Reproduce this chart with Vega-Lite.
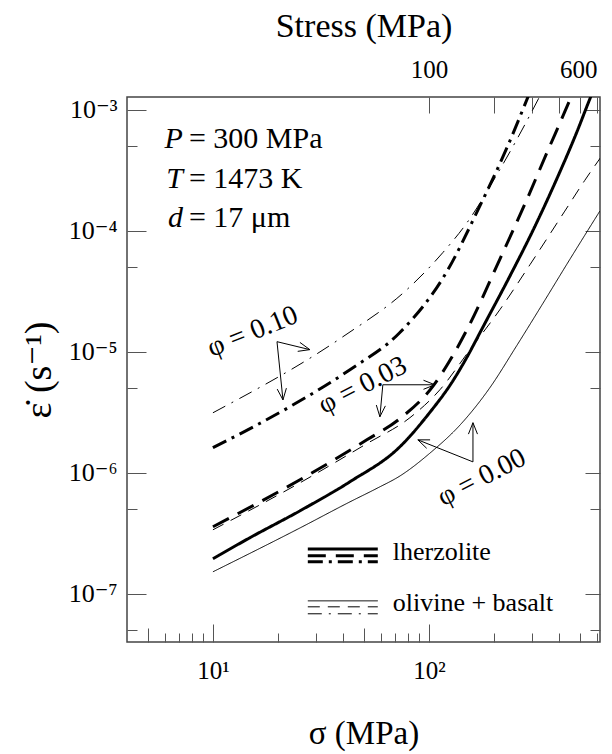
{
  "$schema": "https://vega.github.io/schema/vega-lite/v6.json",
  "width": 473,
  "height": 545,
  "autosize": {"type": "none"},
  "padding": {"left": 127, "top": 97, "right": 12, "bottom": 112},
  "background": "white",
  "config": {
    "view": {"stroke": "#444", "strokeWidth": 1.5},
    "font": "Liberation Serif, DejaVu Serif, serif",
    "text": {"font": "Liberation Serif, DejaVu Serif, serif"},
    "axis": {
      "domain": false, "grid": false,
      "labelFont": "Liberation Serif, DejaVu Serif, serif", "titleFont": "Liberation Serif, DejaVu Serif, serif",
      "labelFontSize": 25, "titleFontSize": 34, "titleFontWeight": "normal",
      "labelColor": "black", "titleColor": "black", "tickColor": "#555", "tickWidth": 1
    }
  },
  "datasets": {
    "curves": [
      {"rock": "lherzolite", "phi": "0.00", "s": 10, "e": 1.95e-7},
      {"rock": "lherzolite", "phi": "0.00", "s": 14.8, "e": 2.9e-7},
      {"rock": "lherzolite", "phi": "0.00", "s": 25.3, "e": 4.85e-7},
      {"rock": "lherzolite", "phi": "0.00", "s": 43.1, "e": 8.43e-7},
      {"rock": "lherzolite", "phi": "0.00", "s": 73.4, "e": 1.64e-6},
      {"rock": "lherzolite", "phi": "0.00", "s": 101, "e": 3.15e-6},
      {"rock": "lherzolite", "phi": "0.00", "s": 128, "e": 5.6e-6},
      {"rock": "lherzolite", "phi": "0.00", "s": 150, "e": 9.0e-6},
      {"rock": "lherzolite", "phi": "0.00", "s": 178, "e": 1.6e-5},
      {"rock": "lherzolite", "phi": "0.00", "s": 237, "e": 4.2e-5},
      {"rock": "lherzolite", "phi": "0.00", "s": 303, "e": 1.0e-4},
      {"rock": "lherzolite", "phi": "0.00", "s": 392, "e": 2.7e-4},
      {"rock": "lherzolite", "phi": "0.00", "s": 484, "e": 6.5e-4},
      {"rock": "lherzolite", "phi": "0.00", "s": 556, "e": 1.22e-3},
      {"rock": "lherzolite", "phi": "0.00", "s": 620, "e": 1.95e-3},
      {"rock": "lherzolite", "phi": "0.03", "s": 10, "e": 3.58e-7},
      {"rock": "lherzolite", "phi": "0.03", "s": 25.3, "e": 8.75e-7},
      {"rock": "lherzolite", "phi": "0.03", "s": 51.6, "e": 1.87e-6},
      {"rock": "lherzolite", "phi": "0.03", "s": 73.4, "e": 2.8e-6},
      {"rock": "lherzolite", "phi": "0.03", "s": 104.5, "e": 5.2e-6},
      {"rock": "lherzolite", "phi": "0.03", "s": 130, "e": 9.5e-6},
      {"rock": "lherzolite", "phi": "0.03", "s": 155, "e": 1.7e-5},
      {"rock": "lherzolite", "phi": "0.03", "s": 213, "e": 5.8e-5},
      {"rock": "lherzolite", "phi": "0.03", "s": 284, "e": 1.8e-4},
      {"rock": "lherzolite", "phi": "0.03", "s": 352, "e": 4.4e-4},
      {"rock": "lherzolite", "phi": "0.03", "s": 426, "e": 9.6e-4},
      {"rock": "lherzolite", "phi": "0.03", "s": 470, "e": 1.45e-3},
      {"rock": "lherzolite", "phi": "0.10", "s": 10, "e": 1.61e-6},
      {"rock": "lherzolite", "phi": "0.10", "s": 22.7, "e": 3.51e-6},
      {"rock": "lherzolite", "phi": "0.10", "s": 43.1, "e": 7.1e-6},
      {"rock": "lherzolite", "phi": "0.10", "s": 73.4, "e": 1.44e-5},
      {"rock": "lherzolite", "phi": "0.10", "s": 121, "e": 4.58e-5},
      {"rock": "lherzolite", "phi": "0.10", "s": 169, "e": 1.49e-4},
      {"rock": "lherzolite", "phi": "0.10", "s": 230, "e": 4.85e-4},
      {"rock": "lherzolite", "phi": "0.10", "s": 287, "e": 1.26e-3},
      {"rock": "lherzolite", "phi": "0.10", "s": 310, "e": 1.77e-3},
      {"rock": "olivine + basalt", "phi": "0.00", "s": 10, "e": 1.52e-7},
      {"rock": "olivine + basalt", "phi": "0.00", "s": 25.3, "e": 3.5e-7},
      {"rock": "olivine + basalt", "phi": "0.00", "s": 43.1, "e": 5.75e-7},
      {"rock": "olivine + basalt", "phi": "0.00", "s": 58, "e": 7.5e-7},
      {"rock": "olivine + basalt", "phi": "0.00", "s": 73.4, "e": 9.4e-7},
      {"rock": "olivine + basalt", "phi": "0.00", "s": 101, "e": 1.45e-6},
      {"rock": "olivine + basalt", "phi": "0.00", "s": 140, "e": 2.5e-6},
      {"rock": "olivine + basalt", "phi": "0.00", "s": 191, "e": 5.0e-6},
      {"rock": "olivine + basalt", "phi": "0.00", "s": 255, "e": 1.12e-5},
      {"rock": "olivine + basalt", "phi": "0.00", "s": 337, "e": 2.5e-5},
      {"rock": "olivine + basalt", "phi": "0.00", "s": 436, "e": 5.3e-5},
      {"rock": "olivine + basalt", "phi": "0.00", "s": 619, "e": 1.45e-4},
      {"rock": "olivine + basalt", "phi": "0.03", "s": 10, "e": 3.38e-7},
      {"rock": "olivine + basalt", "phi": "0.03", "s": 25.3, "e": 8.26e-7},
      {"rock": "olivine + basalt", "phi": "0.03", "s": 51.6, "e": 1.74e-6},
      {"rock": "olivine + basalt", "phi": "0.03", "s": 81.7, "e": 2.85e-6},
      {"rock": "olivine + basalt", "phi": "0.03", "s": 112.5, "e": 4.85e-6},
      {"rock": "olivine + basalt", "phi": "0.03", "s": 155, "e": 1.04e-5},
      {"rock": "olivine + basalt", "phi": "0.03", "s": 213, "e": 2.22e-5},
      {"rock": "olivine + basalt", "phi": "0.03", "s": 294, "e": 5.24e-5},
      {"rock": "olivine + basalt", "phi": "0.03", "s": 426, "e": 1.45e-4},
      {"rock": "olivine + basalt", "phi": "0.03", "s": 527, "e": 2.6e-4},
      {"rock": "olivine + basalt", "phi": "0.03", "s": 653, "e": 4.5e-4},
      {"rock": "olivine + basalt", "phi": "0.10", "s": 10, "e": 3.13e-6},
      {"rock": "olivine + basalt", "phi": "0.10", "s": 40, "e": 1.33e-5},
      {"rock": "olivine + basalt", "phi": "0.10", "s": 79, "e": 3.25e-5},
      {"rock": "olivine + basalt", "phi": "0.10", "s": 116, "e": 6.58e-5},
      {"rock": "olivine + basalt", "phi": "0.10", "s": 150, "e": 1.16e-4},
      {"rock": "olivine + basalt", "phi": "0.10", "s": 213, "e": 3.19e-4},
      {"rock": "olivine + basalt", "phi": "0.10", "s": 303, "e": 1.0e-3},
      {"rock": "olivine + basalt", "phi": "0.10", "s": 344, "e": 1.55e-3}
    ],
    "legend": [
      {"rock": "lherzolite", "phi": "0.00", "s1": 27.5, "s2": 58, "e": 2.35e-7},
      {"rock": "lherzolite", "phi": "0.03", "s1": 27.5, "s2": 58, "e": 2.06e-7},
      {"rock": "lherzolite", "phi": "0.10", "s1": 27.5, "s2": 58, "e": 1.84e-7},
      {"rock": "olivine + basalt", "phi": "0.00", "s1": 27.5, "s2": 58, "e": 8.75e-8},
      {"rock": "olivine + basalt", "phi": "0.03", "s1": 27.5, "s2": 58, "e": 7.81e-8},
      {"rock": "olivine + basalt", "phi": "0.10", "s1": 27.5, "s2": 58, "e": 6.84e-8}
    ],
    "legendText": [
      {"label": "lherzolite", "s": 68, "e": 2.22e-7},
      {"label": "olivine + basalt", "s": 68, "e": 8.43e-8}
    ],
    "arrows": [
      {"dir": "a", "s1": 19.8, "e1": 1.21e-5, "s2": 28.1, "e2": 1.04e-5},
      {"dir": "b", "s1": 19.8, "e1": 1.21e-5, "s2": 21.1, "e2": 4.0e-6},
      {"dir": "c", "s1": 61.2, "e1": 5.33e-6, "s2": 106.6, "e2": 5.33e-6},
      {"dir": "d", "s1": 61.2, "e1": 5.33e-6, "s2": 59.3, "e2": 2.9e-6},
      {"dir": "e", "s1": 160, "e1": 1.23e-6, "s2": 160, "e2": 2.59e-6},
      {"dir": "f", "s1": 160, "e1": 1.23e-6, "s2": 88.9, "e2": 1.87e-6}
    ],
    "phiLabels": [
      {"phi": "0.10", "label": "φ = 0.10", "s": 15.3, "e": 1.46e-5},
      {"phi": "0.03", "label": "φ = 0.03", "s": 49.4, "e": 5.24e-6},
      {"phi": "0.00", "label": "φ = 0.00", "s": 176, "e": 9.1e-7}
    ],
    "params": [
      {"v": "P", "rest": "= 300 MPa", "s": 7.74, "e": 4.85e-4},
      {"v": "T", "rest": "= 1473 K", "s": 7.74, "e": 2.26e-4},
      {"v": "d", "rest": "= 17 μm", "s": 7.74, "e": 1.08e-4}
    ]
  },
  "resolve": {"axis": {"x": "independent", "y": "independent"}, "scale": {"strokeDash": "independent", "shape": "independent"}},
  "layer": [
    {
      "data": {"name": "curves"},
      "transform": [{"filter": "datum.rock == 'lherzolite'"}],
      "mark": {"type": "line", "strokeWidth": 3, "color": "black", "interpolate": "monotone", "clip": true},
      "encoding": {
        "x": {"field": "s", "type": "quantitative", "scale": {"type": "log", "domain": [4, 620], "nice": false},
          "axis": {"orient": "bottom", "values": [10, 100], "labelExpr": "datum.value < 50 ? '10¹' : '10²'", "tickSize": -18, "labelPadding": 34, "title": "σ (MPa)", "titleFontSize": 33, "titlePadding": 34}},
        "y": {"field": "e", "type": "quantitative", "scale": {"type": "log", "domain": [4e-8, 1.27e-3], "nice": false},
          "axis": {"orient": "left", "values": [1e-7, 1e-6, 1e-5, 1e-4, 1e-3], "labelExpr": "datum.value < 5e-7 ? '10⁻⁷' : datum.value < 5e-6 ? '10⁻⁶' : datum.value < 5e-5 ? '10⁻⁵' : datum.value < 5e-4 ? '10⁻⁴' : '10⁻³'", "labelFontSize": 26, "tickSize": -19, "labelPadding": 29, "title": "ε̇ (s⁻¹)", "titleFontSize": 38, "titlePadding": 10}},
        "strokeDash": {"field": "phi", "type": "nominal", "scale": {"domain": ["0.00", "0.03", "0.10"], "range": [[1, 0], [18, 10], [15, 6, 3, 6]]}, "legend": null}
      }
    },
    {
      "data": {"name": "curves"},
      "transform": [{"filter": "datum.rock != 'lherzolite'"}],
      "mark": {"type": "line", "strokeWidth": 1, "color": "black", "interpolate": "monotone", "clip": true},
      "encoding": {
        "x": {"field": "s", "type": "quantitative", "scale": {"type": "log", "domain": [4, 620], "nice": false},
          "axis": {"orient": "bottom", "values": [6, 7, 8, 9, 20, 30, 40, 60, 70, 80, 90, 200, 300, 400, 500, 600], "labels": false, "tickSize": -9, "title": null}},
        "y": {"field": "e", "type": "quantitative", "scale": {"type": "log", "domain": [4e-8, 1.27e-3], "nice": false},
          "axis": {"orient": "left", "values": [5e-8, 5e-7, 5e-6, 5e-5, 5e-4], "labels": false, "tickSize": -10, "title": null}},
        "strokeDash": {"field": "phi", "type": "nominal", "scale": {"domain": ["0.00", "0.03", "0.10"], "range": [[1, 0], [12, 8], [14, 7, 2, 7]]}, "legend": null}
      }
    },
    {
      "data": {"name": "legend"},
      "transform": [{"filter": "datum.rock == 'lherzolite'"}],
      "mark": {"type": "rule", "strokeWidth": 3, "color": "black"},
      "encoding": {
        "x": {"field": "s1", "type": "quantitative", "scale": {"type": "log", "domain": [4, 620], "nice": false},
          "axis": {"orient": "top", "values": [100, 200, 300, 400, 500, 600], "labelExpr": "datum.value == 100 ? '100' : datum.value == 600 ? '600' : ''", "labelFlush": 5, "tickSize": -16, "labelPadding": 31, "title": "Stress (MPa)", "titlePadding": 14}},
        "x2": {"field": "s2"},
        "y": {"field": "e", "type": "quantitative", "scale": {"type": "log", "domain": [4e-8, 1.27e-3], "nice": false},
          "axis": {"orient": "right", "values": [1e-7, 1e-6, 1e-5, 1e-4, 1e-3], "labels": false, "tickSize": -15, "title": null}},
        "strokeDash": {"field": "phi", "type": "nominal", "scale": {"domain": ["0.00", "0.03", "0.10"], "range": [[1, 0], [18, 10], [15, 6, 3, 6]]}, "legend": null}
      }
    },
    {
      "data": {"name": "legend"},
      "transform": [{"filter": "datum.rock != 'lherzolite'"}],
      "mark": {"type": "rule", "strokeWidth": 1, "color": "black"},
      "encoding": {
        "x": {"field": "s1", "type": "quantitative", "scale": {"type": "log", "domain": [4, 620], "nice": false},
          "axis": {"orient": "bottom", "values": [5, 50], "labels": false, "tickSize": -14, "title": null}},
        "x2": {"field": "s2"},
        "y": {"field": "e", "type": "quantitative", "scale": {"type": "log", "domain": [4e-8, 1.27e-3], "nice": false},
          "axis": {"orient": "right", "values": [5e-8, 5e-7, 5e-6, 5e-5, 5e-4], "labels": false, "tickSize": -10, "title": null}},
        "strokeDash": {"field": "phi", "type": "nominal", "scale": {"domain": ["0.00", "0.03", "0.10"], "range": [[1, 0], [12, 8], [14, 7, 2, 7]]}, "legend": null}
      }
    },
    {
      "data": {"name": "legendText"},
      "mark": {"type": "text", "align": "left", "baseline": "middle", "fontSize": 26, "color": "black"},
      "encoding": {
        "x": {"field": "s", "type": "quantitative", "axis": null},
        "y": {"field": "e", "type": "quantitative", "axis": null},
        "text": {"field": "label"}
      }
    },
    {
      "data": {"name": "arrows"},
      "mark": {"type": "rule", "strokeWidth": 1, "color": "black"},
      "encoding": {
        "x": {"field": "s1", "type": "quantitative", "axis": null},
        "y": {"field": "e1", "type": "quantitative", "axis": null},
        "x2": {"field": "s2"},
        "y2": {"field": "e2"}
      }
    },
    {
      "data": {"name": "arrows"},
      "mark": {"type": "point", "filled": false, "stroke": "black", "strokeWidth": 1, "size": 600, "opacity": 1},
      "encoding": {
        "x": {"field": "s2", "type": "quantitative", "axis": null},
        "y": {"field": "e2", "type": "quantitative", "axis": null},
        "shape": {"field": "dir", "type": "nominal", "legend": null,
          "scale": {"domain": ["a", "b", "c", "d", "e", "f"],
            "range": ["M-0.81,-0.59L0,0L-0.99,0.14", "M0.28,-0.96L0,0L-0.47,-0.88", "M-0.93,-0.37L0,0L-0.93,0.37", "M0.45,-0.89L0,0L-0.29,-0.96", "M-0.37,0.93L0,0L0.37,0.93", "M0.72,0.69L0,0L1,0"]}}
      }
    },
    {
      "data": {"name": "phiLabels"},
      "transform": [{"filter": "datum.phi == '0.10'"}],
      "mark": {"type": "text", "align": "center", "baseline": "middle", "angle": 338, "fontSize": 28, "color": "black"},
      "encoding": {
        "x": {"field": "s", "type": "quantitative", "axis": null},
        "y": {"field": "e", "type": "quantitative", "axis": null},
        "text": {"field": "label"}
      }
    },
    {
      "data": {"name": "phiLabels"},
      "transform": [{"filter": "datum.phi == '0.03'"}],
      "mark": {"type": "text", "align": "center", "baseline": "middle", "angle": 333, "fontSize": 28, "color": "black"},
      "encoding": {
        "x": {"field": "s", "type": "quantitative", "axis": null},
        "y": {"field": "e", "type": "quantitative", "axis": null},
        "text": {"field": "label"}
      }
    },
    {
      "data": {"name": "phiLabels"},
      "transform": [{"filter": "datum.phi == '0.00'"}],
      "mark": {"type": "text", "align": "center", "baseline": "middle", "angle": 333, "fontSize": 28, "color": "black"},
      "encoding": {
        "x": {"field": "s", "type": "quantitative", "axis": null},
        "y": {"field": "e", "type": "quantitative", "axis": null},
        "text": {"field": "label"}
      }
    },
    {
      "data": {"name": "params"},
      "mark": {"type": "text", "align": "right", "baseline": "alphabetic", "dx": -6, "fontStyle": "italic", "fontSize": 30, "color": "black"},
      "encoding": {
        "x": {"field": "s", "type": "quantitative", "axis": null},
        "y": {"field": "e", "type": "quantitative", "axis": null},
        "text": {"field": "v"}
      }
    },
    {
      "data": {"name": "params"},
      "mark": {"type": "text", "align": "left", "baseline": "alphabetic", "fontSize": 30, "color": "black"},
      "encoding": {
        "x": {"field": "s", "type": "quantitative", "axis": null},
        "y": {"field": "e", "type": "quantitative", "axis": null},
        "text": {"field": "rest"}
      }
    }
  ]
}
